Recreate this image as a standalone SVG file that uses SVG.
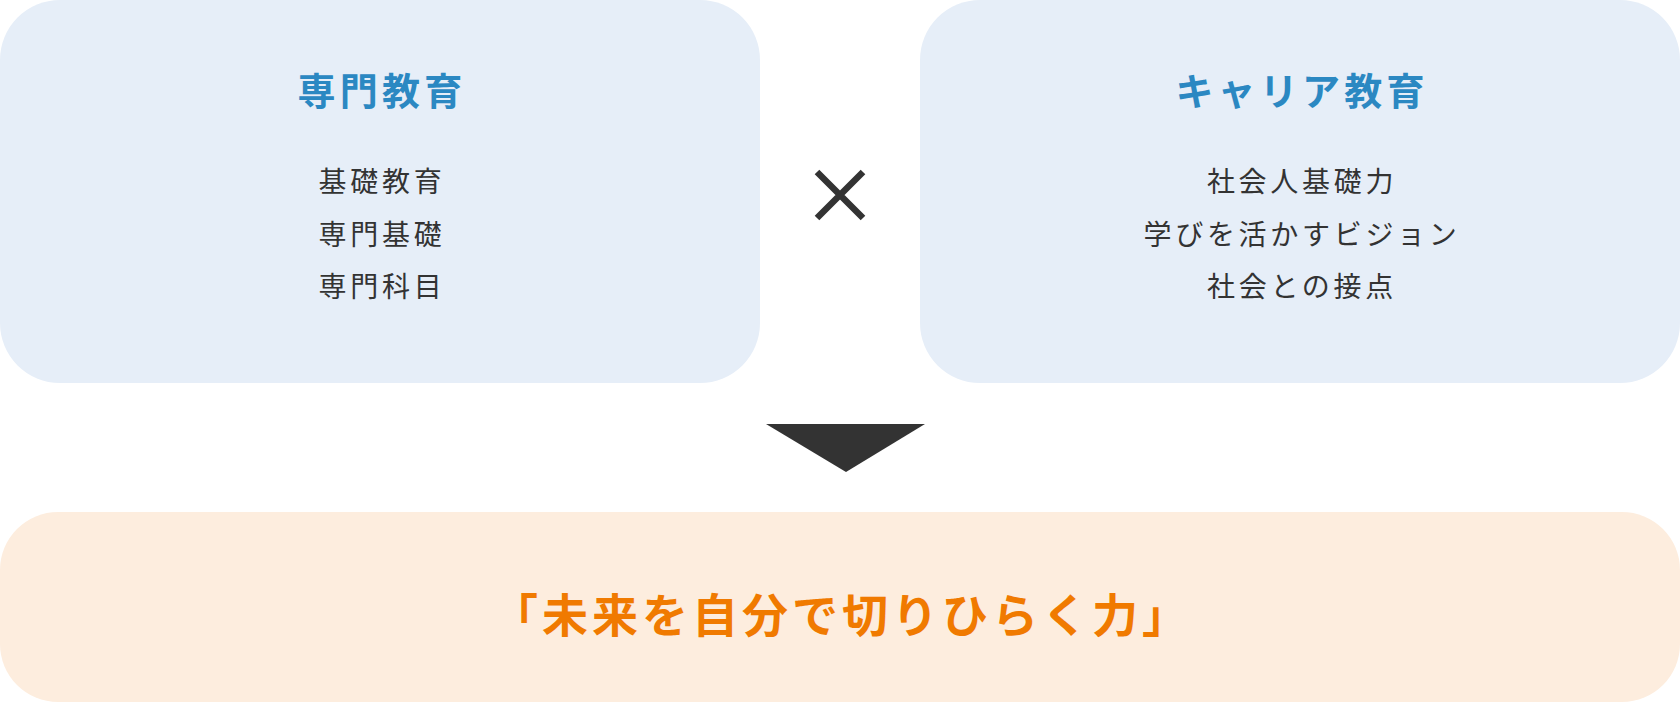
<svg xmlns="http://www.w3.org/2000/svg" width="1680" height="702" viewBox="0 0 1680 702">
<style>
.box{fill:#E6EEF8}
.res{fill:#FDEDDE}
.title{font-family:"Noto Sans CJK JP","Noto Sans",sans-serif;font-size:38px;font-weight:700;fill:#2B88C2;text-anchor:middle;letter-spacing:4.2px}
.body{font-family:"Noto Sans CJK JP","Noto Sans",sans-serif;font-size:28px;font-weight:400;fill:#333333;text-anchor:middle;letter-spacing:3.7px}
.big{font-family:"Noto Sans CJK JP","Noto Sans",sans-serif;font-size:46px;font-weight:700;fill:#F07A00;text-anchor:middle;letter-spacing:4px}
</style>
<rect width="1680" height="702" fill="#FFFFFF"/>
<g id="senmon">
<rect class="box" x="0" y="0" width="760" height="383" rx="60" ry="60"/>
<text class="title" x="382" y="88" dominant-baseline="central">専門教育</text>
<text class="body" x="382" y="180" dominant-baseline="central">基礎教育</text>
<text class="body" x="382" y="232.5" dominant-baseline="central">専門基礎</text>
<text class="body" x="382" y="285" dominant-baseline="central">専門科目</text>
</g>
<g id="career">
<rect class="box" x="920" y="0" width="760" height="383" rx="60" ry="60"/>
<text class="title" x="1302" y="88" dominant-baseline="central">キャリア教育</text>
<text class="body" x="1302" y="180" dominant-baseline="central">社会人基礎力</text>
<text class="body" x="1302" y="232.5" dominant-baseline="central">学びを活かすビジョン</text>
<text class="body" x="1302" y="285" dominant-baseline="central">社会との接点</text>
</g>
<g id="times">
<path d="M817 172 L863 218 M863 172 L817 218" stroke="#333333" stroke-width="6.5" fill="none"/>
</g>
<g id="connectors">
<polygon points="766,424 925,424 846,472" fill="#333333"/>
</g>
<g id="result">
<rect class="res" x="0" y="512" width="1680" height="190" rx="58" ry="58"/>
<text class="big" x="842" y="612" dominant-baseline="central">「未来を自分で切りひらく力」</text>
</g>
</svg>
